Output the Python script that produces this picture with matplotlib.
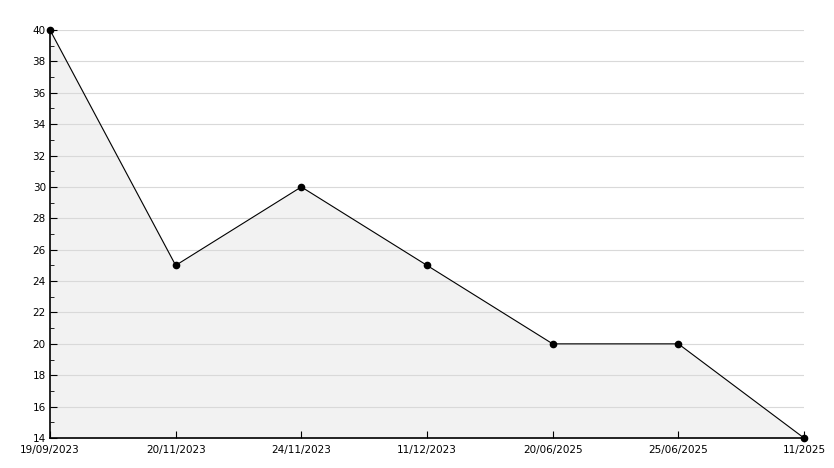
import matplotlib
matplotlib.use("Agg")
import matplotlib.pyplot as plt
from matplotlib.ticker import MultipleLocator

labels = ["19/09/2023", "20/11/2023", "24/11/2023", "11/12/2023", "20/06/2025", "25/06/2025", "11/2025"]
values = [40, 25, 30, 25, 20, 20, 14]

fig = plt.figure(figsize=(8.34, 4.68), dpi=100)
ax = fig.add_axes([50/834, 1 - 438/468, (804-50)/834, (438-30)/468])
x = list(range(len(values)))
ax.fill_between(x, values, 14, color="#f2f2f2", zorder=1)
ax.plot(x, values, color="black", lw=0.8, marker="o", ms=4.5, mfc="black", mec="black", zorder=3, clip_on=False)
ax.set_xlim(0, len(values) - 1)
ax.set_ylim(14, 40)
ax.yaxis.set_major_locator(MultipleLocator(2))
ax.yaxis.set_minor_locator(MultipleLocator(1))
ax.set_xticks(x)
ax.set_xticklabels(labels)
ax.grid(axis="y", which="major", color="#d9d9d9", lw=0.8, zorder=0)
for s in ["top", "right"]:
    ax.spines[s].set_visible(False)
ax.spines["left"].set_linewidth(1.2)
ax.spines["bottom"].set_linewidth(1.2)
ax.tick_params(axis="y", which="major", direction="in", length=5, labelsize=7.5, pad=3)
ax.tick_params(axis="y", which="minor", direction="in", length=3)
ax.tick_params(axis="x", direction="in", length=5, labelsize=7.5, pad=5)
fig.savefig("out.png", dpi=100)
